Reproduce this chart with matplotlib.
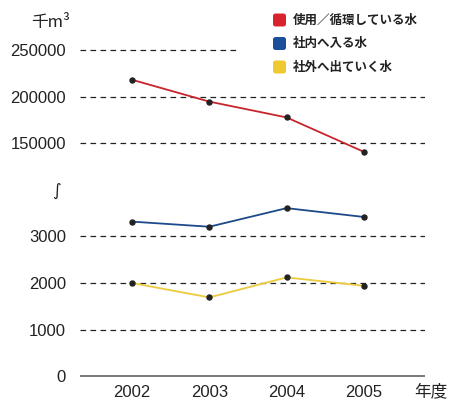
import matplotlib.pyplot as plt
from matplotlib.patches import FancyBboxPatch

plt.rcParams['font.family'] = ['Liberation Sans', 'Noto Sans CJK JP', 'DejaVu Sans']

# === MARK: Data (thousand m3 per fiscal year)
years = [2002, 2003, 2004, 2005]
used_water = [218000, 194500, 177500, 140500]
intake_water = [3320, 3210, 3610, 3420]
discharge_water = [2000, 1690, 2120, 1940]

series_labels = ['使用／循環している水', '社内へ入る水', '社外へ出ていく水']
series_colors = ['#c8242c', '#1d4a8a', '#eccb3c']
legend_colors = ['#d8232e', '#1b4f9c', '#f0c830']

upper_ticks = [150000, 200000, 250000]
lower_ticks = [0, 1000, 2000, 3000]

# === MARK: Layout (pixel based, figure is 456x401)
W, H = 456, 401
fig = plt.figure(figsize=(W / 100, H / 100), dpi=100)

left_px, right_px = 80, 425
px_per_year = 77.3
x_first = 132
xlim = (years[0] - (x_first - left_px) / px_per_year,
        years[0] + (right_px - x_first) / px_per_year)

# both panels share the same pixel scale: 46.5 px per step
step_px = 46.5


def make_axes(top_px, bottom_px, ref_val, ref_px, unit):
    ax = fig.add_axes([left_px / W, (H - bottom_px) / H,
                       (right_px - left_px) / W, (bottom_px - top_px) / H])
    lo = ref_val - (bottom_px - ref_px) / step_px * unit
    hi = ref_val + (ref_px - top_px) / step_px * unit
    ax.set_ylim(lo, hi)
    ax.set_xlim(*xlim)
    for s in ax.spines.values():
        s.set_visible(False)
    ax.tick_params(length=0, labelsize=12, pad=10)
    return ax


ax_top = make_axes(38, 165, 250000, 50, 50000)
ax_bot = make_axes(192, 377, 0, 376, 1000)

# === MARK: Grid lines
for v in upper_ticks:
    xmax = 0.458 if v == 250000 else 1.0
    ax_top.axhline(v, xmin=0, xmax=xmax, color='#222222', lw=0.9,
                   ls=(0, (4.5, 3.5)), zorder=1)
for v in lower_ticks:
    if v == 0:
        ax_bot.axhline(v, color='#555555', lw=1.1, zorder=1)
    else:
        ax_bot.axhline(v, color='#222222', lw=0.9, ls=(0, (4.5, 3.5)), zorder=1)

ax_top.set_yticks(upper_ticks)
ax_top.set_yticklabels([str(v) for v in upper_ticks], color='#222222')
ax_top.set_xticks([])
ax_bot.set_yticks(lower_ticks)
ax_bot.set_yticklabels([str(v) for v in lower_ticks], color='#222222')
ax_bot.set_xticks(years)
ax_bot.set_xticklabels([str(y) for y in years], color='#222222')
ax_bot.tick_params(axis='x', pad=6)

# === MARK: Lines
ax_top.plot(years, used_water, color=series_colors[0], lw=1.3, zorder=3)
ax_top.plot(years, used_water, 'o', color='#222222', ms=3.6, zorder=4)
ax_bot.plot(years, intake_water, color=series_colors[1], lw=1.3, zorder=3)
ax_bot.plot(years, intake_water, 'o', color='#222222', ms=3.6, zorder=4)
ax_bot.plot(years, discharge_water, color=series_colors[2], lw=1.3, zorder=3)
ax_bot.plot(years, discharge_water, 'o', color='#222222', ms=3.6, zorder=4)

# === MARK: Labels
fig.text(70 / W, 1 - 22 / H, '千m³', ha='right', va='center', fontsize=12,
         color='#222222', family=['Noto Sans CJK JP', 'DejaVu Sans'])
fig.text(431 / W, 1 - 392 / H, '年度', ha='center', va='center', fontsize=12,
         color='#222222', family=['Noto Sans CJK JP', 'DejaVu Sans'])
fig.text(56 / W, 1 - 191 / H, '∫', ha='center', va='center', fontsize=12,
         color='#222222', family=['DejaVu Sans'])

# === MARK: Legend
for i, (label, c) in enumerate(zip(series_labels, legend_colors)):
    yc = 20 + i * 23.5
    box = FancyBboxPatch((273 / W, 1 - (yc + 6.5) / H), 13 / W, 13 / H,
                         boxstyle='round,pad=0,rounding_size=0.006',
                         transform=fig.transFigure, facecolor=c, edgecolor='none')
    fig.add_artist(box)
    fig.text(293 / W, 1 - yc / H, label, ha='left', va='center', fontsize=9,
             weight='bold', color='#222222',
             family=['Noto Sans CJK JP', 'DejaVu Sans'])

fig.savefig('out.png', dpi=100)
